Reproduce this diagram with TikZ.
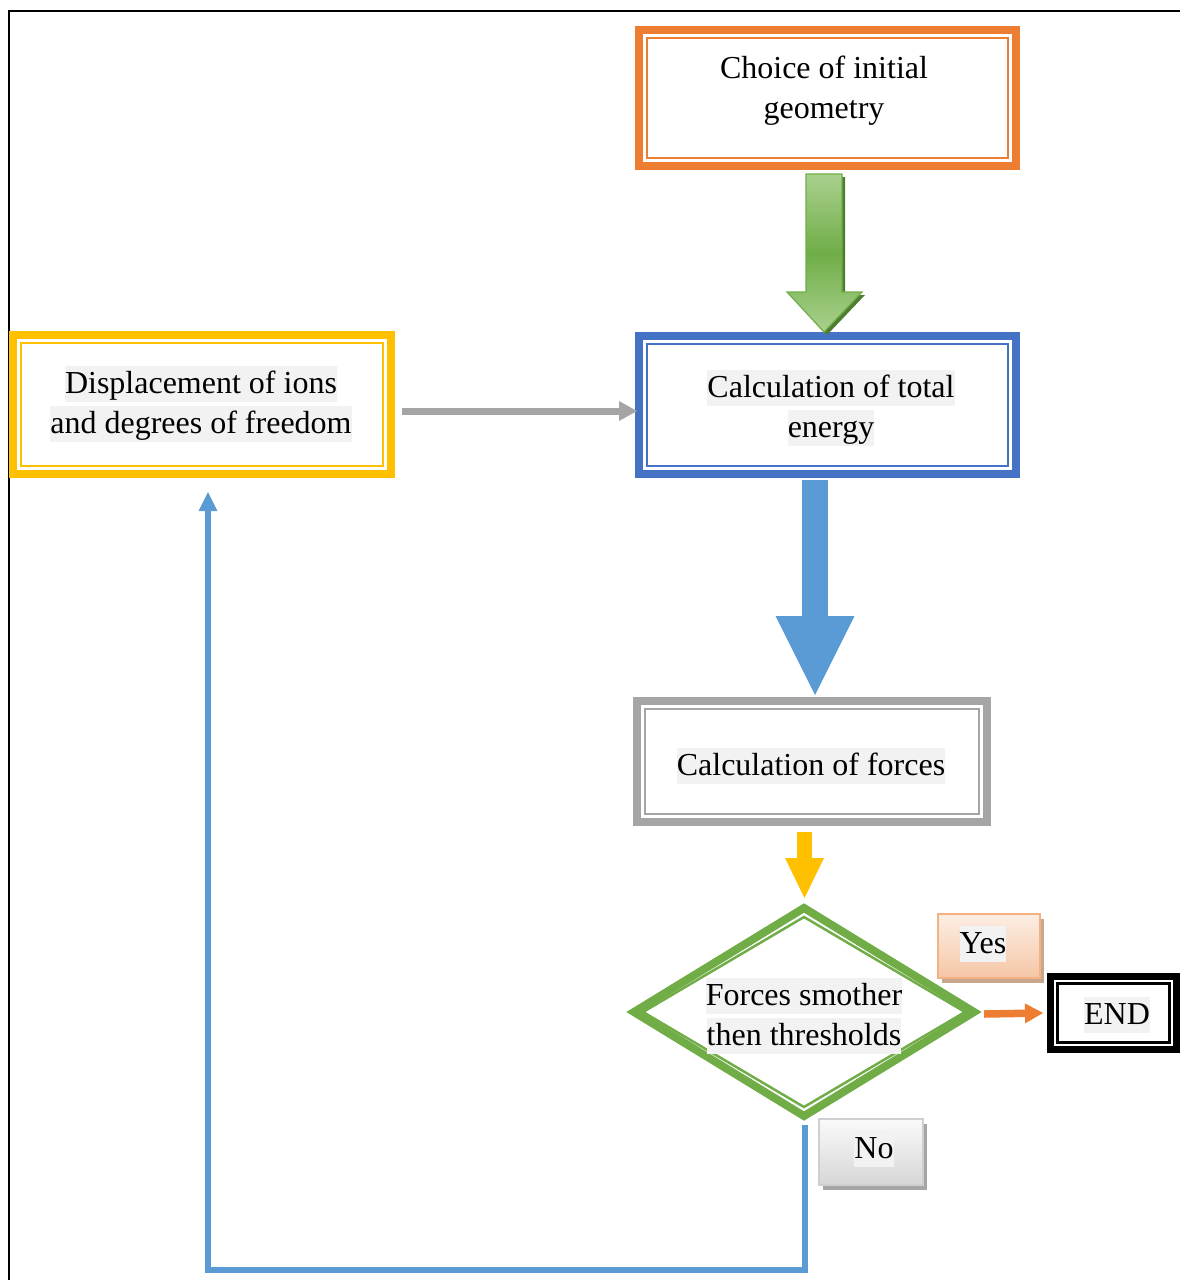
\documentclass[tikz,border=0pt]{standalone}
\usepackage{fontspec}
\setmainfont{Liberation Serif}
\usetikzlibrary{arrows.meta,shapes.geometric,calc,shadows}
\definecolor{cOrange}{HTML}{ED7D31}
\definecolor{cBlue}{HTML}{4472C4}
\definecolor{cLblue}{HTML}{5B9BD5}
\definecolor{cYellow}{HTML}{FFC000}
\definecolor{cGray}{HTML}{A5A5A5}
\definecolor{cGreen}{HTML}{70AD47}
\definecolor{cLgreen}{HTML}{A9D18E}
\definecolor{cDgreen}{HTML}{4E7D31}
\definecolor{hlgray}{HTML}{F2F2F2}
\definecolor{cPeach}{HTML}{F4B183}
\definecolor{cPeachT}{HTML}{FCEEE4}
\definecolor{cPeachB}{HTML}{F5C6A5}
\definecolor{cPeachS}{HTML}{C9A68E}
\definecolor{cNoT}{HTML}{FAFAFA}
\definecolor{cNoB}{HTML}{D6D6D6}
\definecolor{cNoE}{HTML}{CFCFCF}
\newcommand\hlx[1]{{\setlength{\fboxsep}{0pt}\colorbox{hlgray}{\rule[-9pt]{0pt}{36pt}#1}}}
\begin{document}
\begin{tikzpicture}[x=1pt,y=-1pt,
  box/.style={draw=#1, line width=8pt, rectangle, inner sep=0pt, outer sep=0pt, fill=white},
  inbox/.style={draw=#1, line width=2.5pt},
  txt/.style={align=center, font=\fontsize{32pt}{40pt}\selectfont, inner sep=0pt},
  tagshadow/.style={drop shadow={shadow xshift=4pt, shadow yshift=-5pt, fill=#1, opacity=1}},
]
\useasboundingbox (0,0) rectangle (1180,1280);
% frame
\draw[line width=2pt] (1182,11) -- (9,11) -- (9,1282);

% boxes
\node[box=cOrange, minimum width=377pt, minimum height=136pt] (geo) at (827.5,98) {};
\draw[inbox=cOrange] ([shift={(8pt,-8pt)}]geo.north west) rectangle ([shift={(-8pt,8pt)}]geo.south east);
\node[txt] (geoT) at (824,91) {Choice of initial\\geometry};

\node[box=cBlue, minimum width=377pt, minimum height=138pt] (energy) at (827.5,405) {};
\draw[inbox=cBlue] ([shift={(8pt,-8pt)}]energy.north west) rectangle ([shift={(-8pt,8pt)}]energy.south east);
\node[txt] (energyT) at (831,408) {\hlx{Calculation of total}\\\hlx{energy}};

\node[box=cYellow, minimum width=378pt, minimum height=139pt] (disp) at (202,404.5) {};
\draw[inbox=cYellow] ([shift={(8pt,-8pt)}]disp.north west) rectangle ([shift={(-8pt,8pt)}]disp.south east);
\node[txt] (dispT) at (201,404) {\hlx{Displacement of ions}\\\hlx{and degrees of freedom}};

\node[box=cGray, minimum width=350pt, minimum height=121pt] (forces) at (812,761.5) {};
\draw[inbox=cGray] ([shift={(8pt,-8pt)}]forces.north west) rectangle ([shift={(-8pt,8pt)}]forces.south east);
\node[txt] (forcesT) at (811,766) {\hlx{Calculation of forces}};

\node[diamond, draw=cGreen, line width=8pt, minimum width=340pt, minimum height=208pt, inner sep=0pt, outer sep=0pt, fill=white] (dec) at (804,1012) {};
\node[diamond, draw=cGreen, line width=2.5pt, minimum width=322pt, minimum height=190pt, inner sep=0pt, outer sep=0pt] (decin) at (804,1012) {};
\node[txt] (decT) at (804,1016) {\hlx{Forces smother}\\\hlx{then thresholds}};

\node[box=black, line width=7pt, minimum width=126pt, minimum height=73pt] (end) at (1113.5,1013) {};
\draw[line width=2.5pt] ([shift={(7pt,-7pt)}]end.north west) rectangle ([shift={(-7pt,7pt)}]end.south east);
\node[txt] (endT) at (1117,1015) {\hlx{END}};

\node[draw=cPeach, line width=1.5pt, top color=cPeachT, bottom color=cPeachB, minimum width=102pt, minimum height=64pt, inner sep=0pt,
      tagshadow=cPeachS] (yes) at (989,946) {};
\node[txt] (yesT) at (983,944) {\hlx{Yes}};

\node[draw=cNoE, line width=1.5pt, top color=cNoT, bottom color=cNoB, minimum width=104pt, minimum height=66pt, inner sep=0pt,
      tagshadow=cGray] (no) at (871,1152) {};
\node[txt] (noT) at (874,1149) {\hlx{No}};

% green block arrow (shadow, then gradient body)
\fill[cDgreen] (809,177) -- (845,177) -- (845,295) -- (865,295) -- (827,335) -- (790,295) -- (809,295) -- cycle;
\path[draw=cGreen, line width=1.2pt, top color=cLgreen, bottom color=cLgreen, middle color=cGreen]
  (806,174) -- (842,174) -- (842,292) -- (862,292) -- (824,332) -- (787,292) -- (806,292) -- cycle;

% blue block arrow
\draw[cLblue, line width=26pt, -{Triangle[width=79pt,length=79pt,line width=0pt]}]
  ([xshift=-12.5pt,yshift=-6pt]energy.south) -- ([xshift=3pt,yshift=6pt]forces.north);

% yellow block arrow
\draw[cYellow, line width=15pt, -{Triangle[width=39pt,length=40pt,line width=0pt]}]
  ([xshift=-7.5pt,yshift=-10pt]forces.south) -- ([xshift=0.5pt,yshift=10pt]dec.north);

% gray arrow
\draw[cGray, line width=7pt, -{Triangle[width=20pt,length=18pt,line width=0pt]}]
  ([xshift=11pt,yshift=-6.5pt]disp.east) -- ([xshift=-2pt,yshift=-6pt]energy.west);

% orange arrow
\draw[cOrange, line width=7.5pt, -{Triangle[width=20pt,length=18pt,line width=0pt]}]
  ([xshift=10pt,yshift=-2pt]dec.east) -- ([xshift=-7.5pt,yshift=0pt]end.west);

% blue loop
\draw[cLblue, line width=6.5pt, -{Triangle[width=19pt,length=19pt,line width=0pt]}]
  ([xshift=1pt,yshift=-9pt]dec.south) -- ++(0,145) -| ([xshift=6pt,yshift=-18pt]disp.south);
\end{tikzpicture}
\end{document}
